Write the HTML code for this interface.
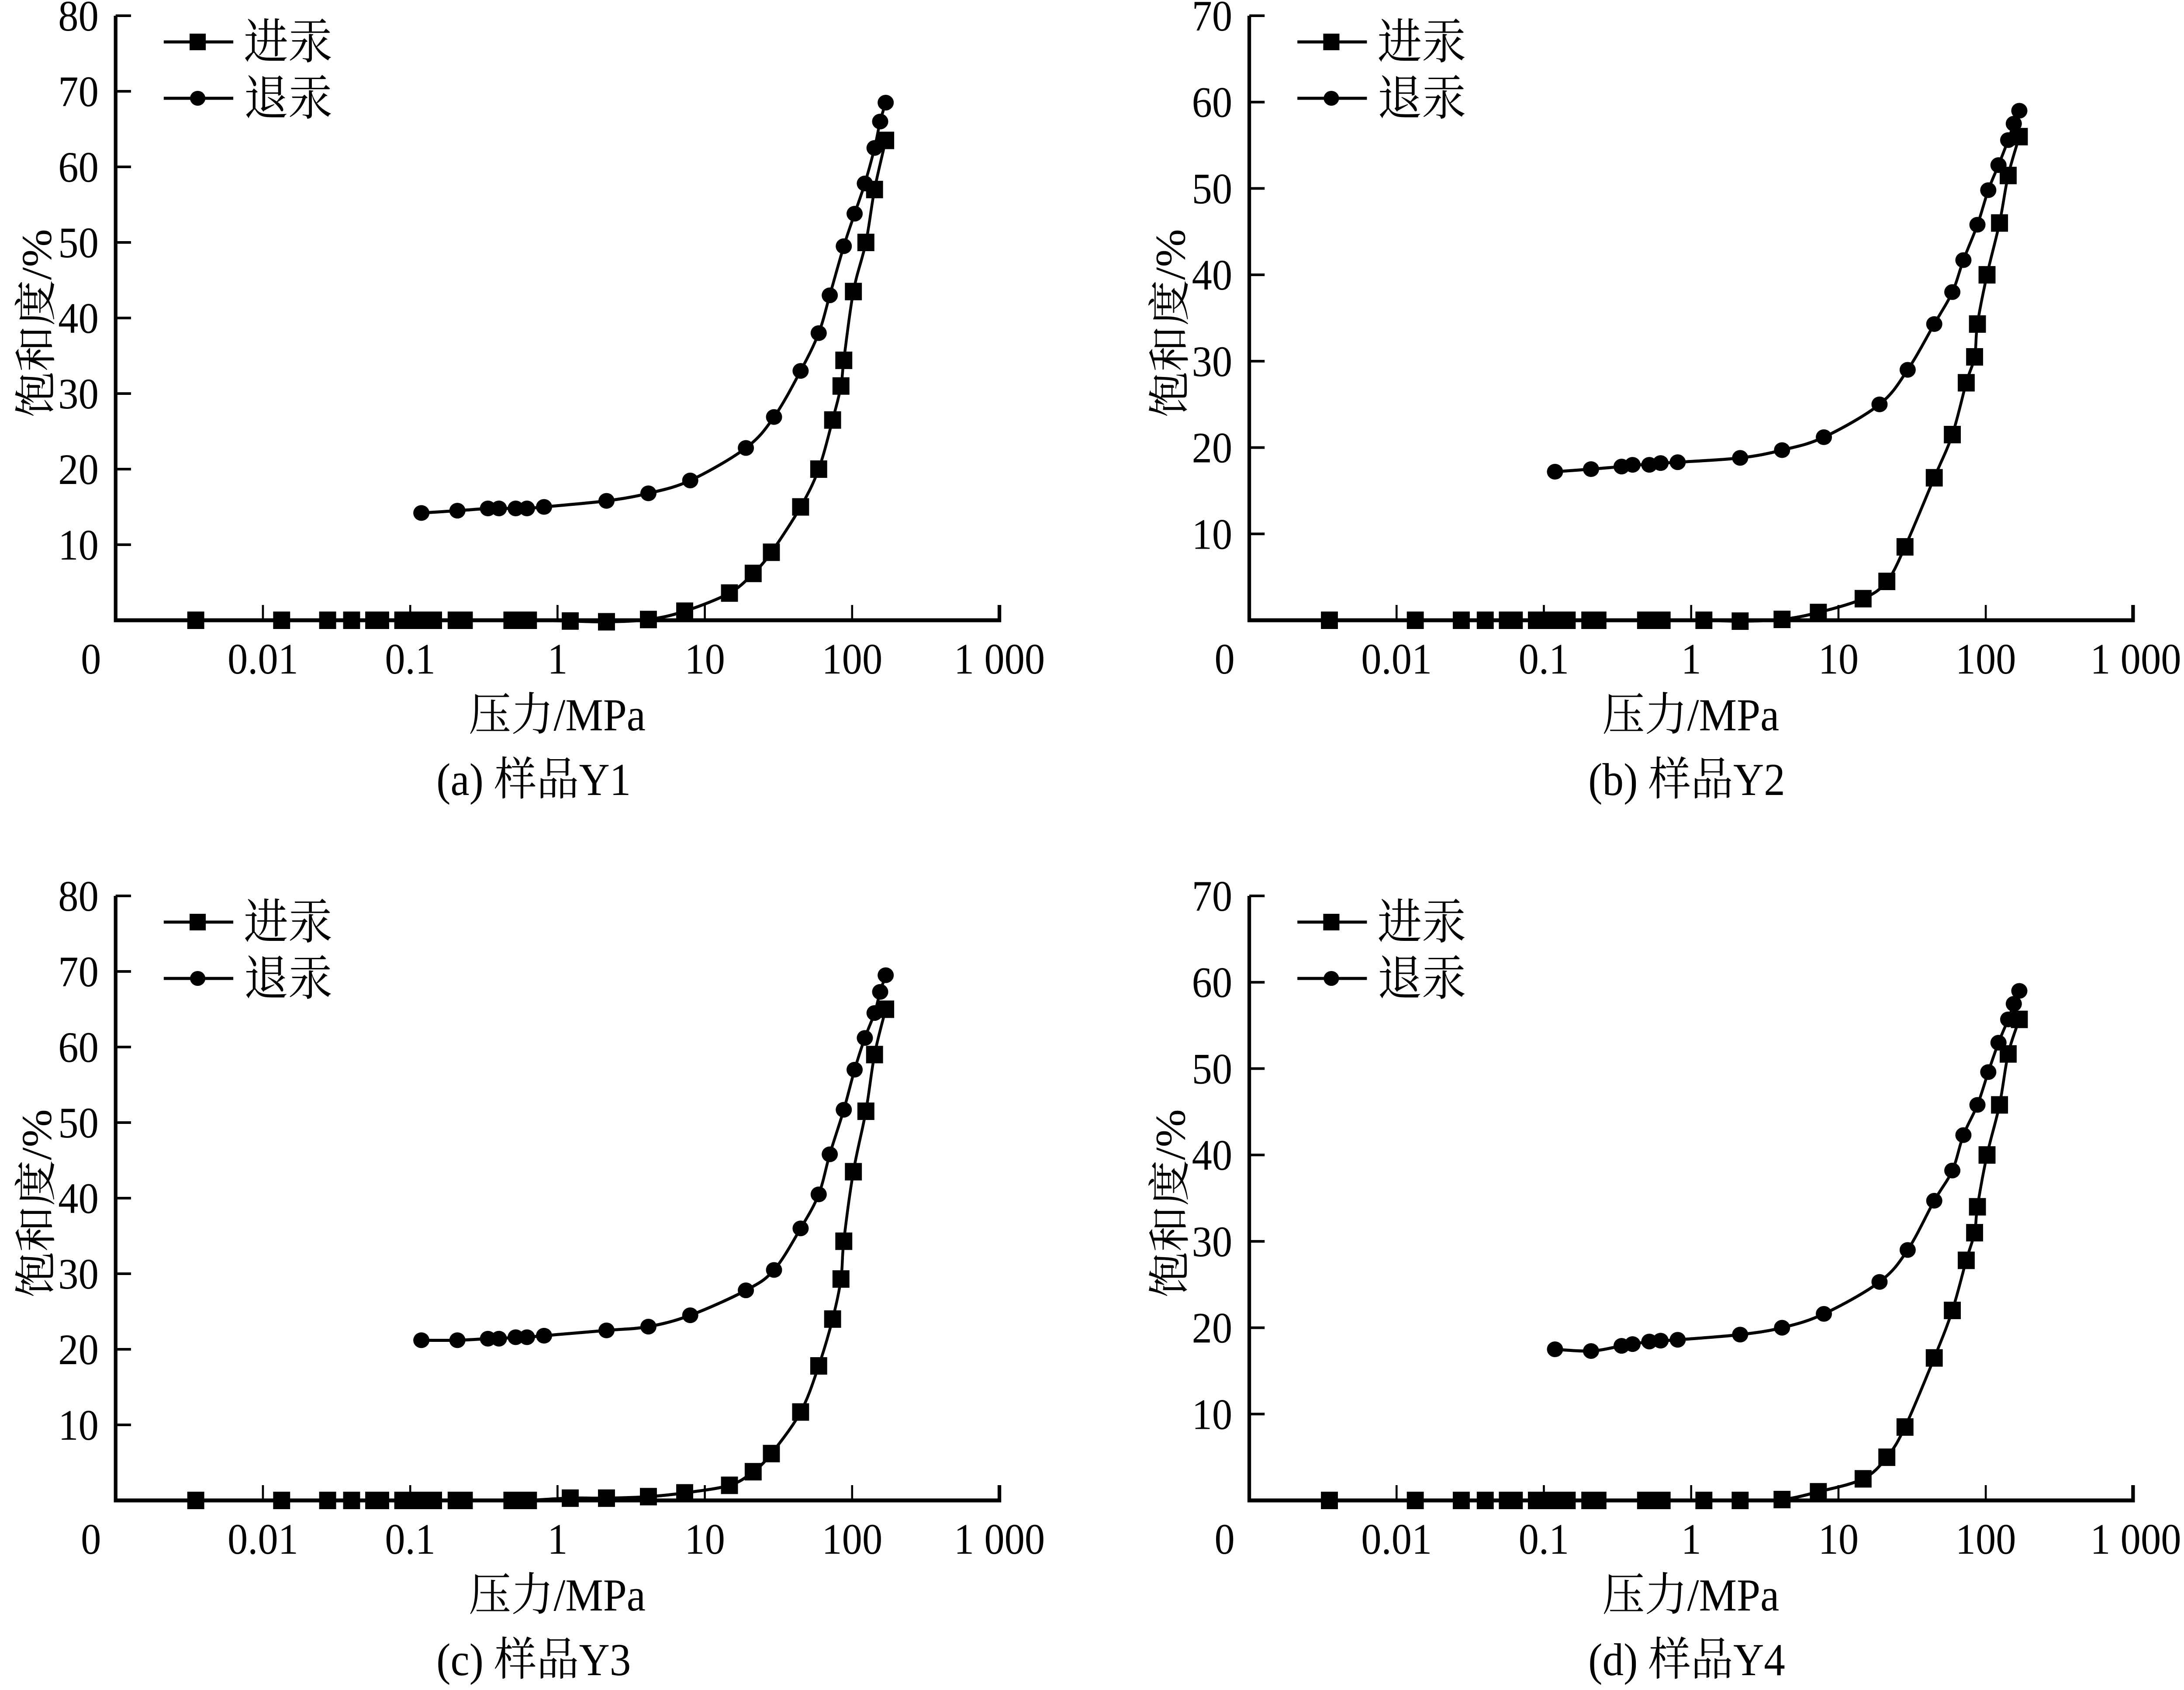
<!DOCTYPE html>
<html><head><meta charset="utf-8"><style>
html,body{margin:0;padding:0;background:#fff;overflow:hidden;width:100%;height:100%;}
svg{display:block;width:100vw;height:100vh;}
text{font-family:"Liberation Serif","Noto Serif CJK SC",serif;fill:#000;}
</style></head><body>
<svg id="chart" viewBox="0 0 5402 3869" preserveAspectRatio="none" xmlns="http://www.w3.org/2000/svg" overflow="hidden"></svg>
<script>
// Shared intrusion pressures (MPa)
const inP = [0.0035,0.0134,0.0275,0.040,0.0565,0.063,0.089,0.102,0.114,0.129,0.144,0.205,0.233,0.49,0.557,0.635,1.22,2.15,4.14,7.3,14.7,21.3,28.3,44.7,59.3,73.7,84,87.8,102,124,142,169];
const inA = [0,0,0,0,0,0,0,0,0,0,0,0,0,0,0,0,-0.1,-0.2,0.1,1.2,3.6,6.2,9,15,20,26.5,31,34.4,43.5,50,57,63.5];
const inB = [0,0,0,0,0,0,0,0,0,0,0,0,0,0,0,0,0,-0.1,0.1,0.9,2.5,4.5,8.5,16.5,21.5,27.5,30.5,34.3,40,46,51.5,56];
const inC = [0,0,0,0,0,0,0,0,0,0,0,0,0,0,0,0,0.3,0.3,0.5,1,2,3.8,6.2,11.7,17.8,24,29.3,34.3,43.5,51.5,59,65];
const inD = [0,0,0,0,0,0,0,0,0,0,0,0,0,0,0,0,0,0,0.1,1,2.5,5,8.5,16.5,22,27.8,31,34,40,45.8,51.7,55.7];
// Extrusion pressures (MPa)
const outP = [0.119,0.209,0.337,0.40,0.52,0.62,0.81,2.15,4.14,7.96,19,29.5,44.7,59.3,70.5,87.8,104,122,142,155,169];
const outA = [14.2,14.5,14.8,14.8,14.8,14.8,15,15.8,16.8,18.5,22.8,26.9,33,38,43,49.5,53.8,57.8,62.5,66,68.5];
const outB = [17.2,17.5,17.8,18,18,18.2,18.3,18.8,19.7,21.2,25,29,34.3,38,41.7,45.8,49.8,52.7,55.6,57.5,59];
const outC = [21.2,21.2,21.4,21.4,21.6,21.6,21.8,22.5,23,24.5,27.8,30.5,36,40.5,45.8,51.7,57,61.2,64.5,67.3,69.5];
const outD = [17.5,17.3,17.9,18.1,18.4,18.5,18.6,19.2,20,21.6,25.3,29,34.7,38.2,42.3,45.8,49.6,53,55.7,57.5,59];
const xTickLabels = ["0","0.01","0.1","1","10","100","1 000"];
const panelNames = ["a","b","c","d"];
const yMaxes = [80,70,80,70];
const captions = ["(a)  样品Y1","(b)  样品Y2","(c)  样品Y3","(d)  样品Y4"];
const inSeries = [inA,inB,inC,inD];
const outSeries = [outA,outB,outC,outD];

const NS="http://www.w3.org/2000/svg";
const svg=document.getElementById('chart');
function mk(tag,attrs,parent){const e=document.createElementNS(NS,tag);for(const k in attrs)e.setAttribute(k,attrs[k]);(parent||svg).appendChild(e);return e;}
function smooth(pts){
  if(pts.length<2)return '';
  let d='M'+pts[0][0]+','+pts[0][1];
  for(let i=0;i<pts.length-1;i++){
    const p0=pts[i-1]||pts[i],p1=pts[i],p2=pts[i+1],p3=pts[i+2]||p2;
    const t=6;
    const c1=[p1[0]+(p2[0]-p0[0])/t,p1[1]+(p2[1]-p0[1])/t];
    const c2=[p2[0]-(p3[0]-p1[0])/t,p2[1]-(p3[1]-p1[1])/t];
    d+=' C'+c1[0]+','+c1[1]+' '+c2[0]+','+c2[1]+' '+p2[0]+','+p2[1];
  }
  return d;
}
const origins=[[286,36],[3090,36],[286,2051],[3090,2051]];
const W=2186,H=1384;
for(let k=0;k<4;k++){
  const ox=origins[k][0],oy=origins[k][1],yb=oy+H,ymax=yMaxes[k];
  const g=mk('g',{});
  
  
  const xs=p=>ox+(Math.log10(p)+3)/6*W;
  const ys=v=>yb-v/ymax*H;
  const ax=mk('path',{d:`M${ox},${oy} V${yb} H${ox+W} V${yb-35}`,fill:'none',stroke:'#000','stroke-width':9},g);
  
  
  for(let v=10;v<=ymax;v+=10){
    const y=ys(v);
    mk('line',{x1:ox,x2:ox+38,y1:y,y2:y,stroke:'#000','stroke-width':6},g);
    const t=mk('text',{x:ox-42,y:y+34,'font-size':100,'text-anchor':'end'},g);
    t.textContent=v;
    
    
  }
  for(let i=0;i<7;i++){
    const x=ox+i*W/6;
    if(i>0&&i<6)mk('line',{x1:x,x2:x,y1:yb,y2:yb-35,stroke:'#000','stroke-width':5},g);
    let lx=i===0?ox-61:x, anchor='middle';
    if(i===6&&k%2===1){lx=5395;anchor='end';}
    const t=mk('text',{x:lx,y:yb+122,'font-size':100,'text-anchor':anchor},g);
    t.textContent=xTickLabels[i];
    
    
  }
  const xl=mk('text',{x:ox+1092,y:yb+252,'font-size':105,'text-anchor':'middle'},g);
  xl.textContent='压力/MPa';
  
  
  const yl=mk('text',{x:0,y:0,'font-size':105,'text-anchor':'middle',transform:`translate(${ox-160},${oy+704}) rotate(-90)`},g);
  yl.textContent='饱和度/%';
  
  
  const cap=mk('text',{x:ox+(k%2?1082:1034),y:yb+400,'font-size':105,'text-anchor':'middle'},g);
  cap.textContent=captions[k];
  
  
  const ip=inP.map((p,i)=>[xs(p),ys(inSeries[k][i])]);
  const op=outP.map((p,i)=>[xs(p),ys(outSeries[k][i])]);
  const l1=mk('path',{d:smooth(ip),fill:'none',stroke:'#000','stroke-width':7},g);
  
  
  const l2=mk('path',{d:smooth(op),fill:'none',stroke:'#000','stroke-width':7},g);
  
  
  ip.forEach(p=>{const r=mk('rect',{x:p[0]-21,y:p[1]-20,width:42,height:40,fill:'#000'},g);
    
    });
  op.forEach(p=>{const c=mk('ellipse',{cx:p[0],cy:p[1],rx:20,ry:18,fill:'#000'},g);
    
    });
  const lg=mk('g',{},g);
  
  
  mk('line',{x1:ox+119,x2:ox+291,y1:oy+60,y2:oy+60,stroke:'#000','stroke-width':7},lg);
  mk('rect',{x:ox+183,y:oy+41,width:40,height:38,fill:'#000'},lg);
  const t1=mk('text',{x:ox+317,y:oy+98,'font-size':110},lg);
  t1.textContent='进汞';
  
  
  mk('line',{x1:ox+119,x2:ox+291,y1:oy+189,y2:oy+189,stroke:'#000','stroke-width':7},lg);
  mk('ellipse',{cx:ox+203,cy:oy+189,rx:19,ry:17,fill:'#000'},lg);
  const t2=mk('text',{x:ox+317,y:oy+227,'font-size':110},lg);
  t2.textContent='退汞';
  
  
}
</script>
</body></html>
